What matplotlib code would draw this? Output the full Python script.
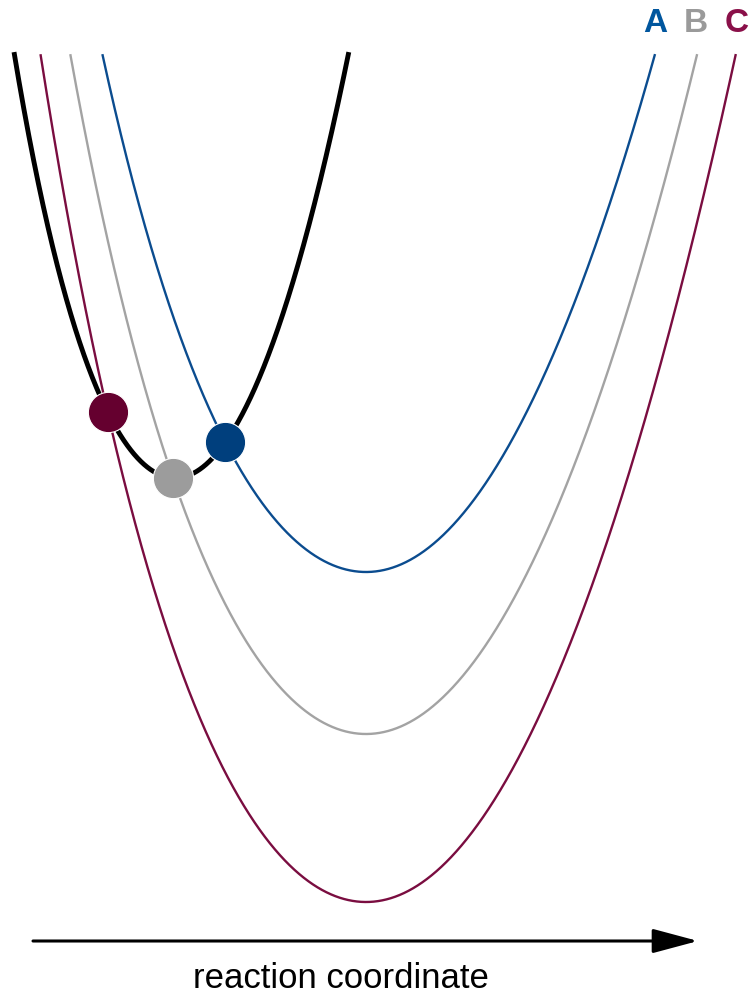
import numpy as np
import matplotlib.pyplot as plt

# energy in arbitrary units (0 = bottom of canvas, 1000 = top)
# each well: E = min + a*d^2 (+ b*d^4 on the inner, left-hand side), d = x - center

# reactant well (black)
react_center = 175
react_min = 522
react_a = 0.0141
react_b = 9.0e-8

# product wells A, B, C
labels = ['A', 'B', 'C']
prod_center = [366, 366, 366]
prod_min = [428, 266, 98]
prod_a = [0.0062, 0.0062, 0.0062]
prod_b = [1.8e-8, 1.8e-8, 1.7e-8]

line_colors = ['#0B4C8F', '#A3A3A3', '#7A0D40']
dot_colors = ['#003F7D', '#9C9C9C', '#65002F']
label_colors = ['#00569E', '#9A9A9A', '#8A1049']

e_top = 946


def well(x, c, m, a, b):
    d = x - c
    return m + a * d ** 2 + np.where(d < 0, b * d ** 4, 0.0)


fig = plt.figure(figsize=(7.49, 10.0), dpi=100)
ax = fig.add_axes([0, 0, 1, 1])
ax.set_xlim(0, 749)
ax.set_ylim(0, 1000)
ax.axis('off')

xs = np.linspace(-50, 800, 20000)

# product curves
for c, m, a, b, col in zip(prod_center, prod_min, prod_a, prod_b, line_colors):
    e = well(xs, c, m, a, b)
    keep = e <= e_top
    ax.plot(xs[keep], e[keep], color=col, lw=1.7, zorder=2,
            solid_capstyle='butt')

# reactant curve
e_r = well(xs, react_center, react_min, react_a, react_b)
keep = e_r <= e_top + 2
ax.plot(xs[keep], e_r[keep], color='black', lw=3.5, zorder=3,
        solid_capstyle='butt')

# crossing points (left-hand intersection of reactant and product wells)
for c, m, a, b, col in zip(prod_center, prod_min, prod_a, prod_b, dot_colors):
    diff = e_r - well(xs, c, m, a, b)
    sel = (xs > 0) & (xs < react_center + 100)
    idx = np.where(sel[:-1] & (np.diff(np.sign(diff)) != 0))[0][-1]
    xc = xs[idx]
    ax.plot(xc, well(xc, c, m, a, b), 'o', ms=29, color=col, mec='white',
            mew=0.8, zorder=4)

# labels A B C
for i, (lab, col) in enumerate(zip(labels, label_colors)):
    ax.text(655 + 41 * i, 977, lab, color=col, fontsize=24, fontweight='bold',
            family='Liberation Sans', ha='center', va='center')

# reaction coordinate arrow
ax.annotate('', xy=(698, 59), xytext=(33, 59),
            arrowprops=dict(arrowstyle='-|>,head_length=2.8,head_width=0.75',
                            color='black', lw=2.2, shrinkA=0, shrinkB=0))
ax.text(341, 22, 'reaction coordinate', fontsize=25, family='Liberation Sans',
        ha='center', va='center')

fig.savefig('out.png', dpi=100)
